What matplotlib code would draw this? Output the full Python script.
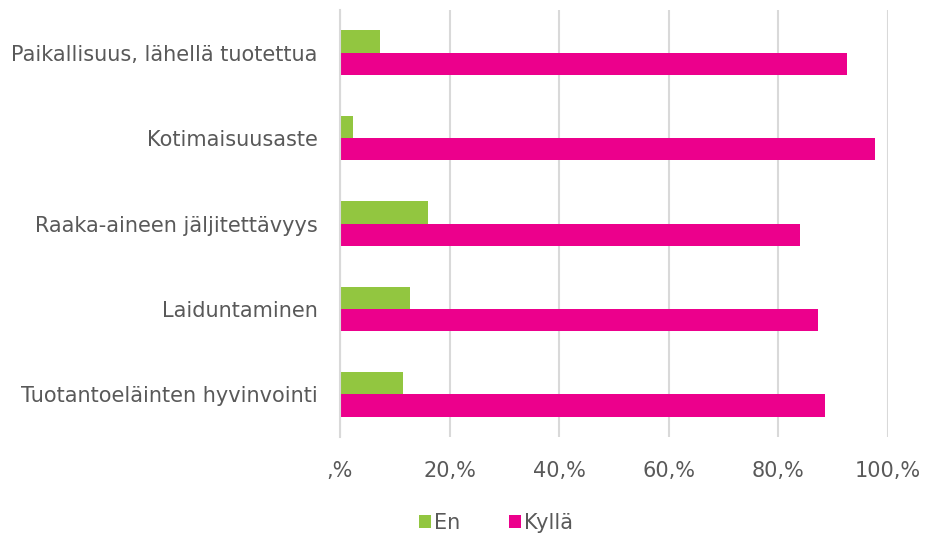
import matplotlib
matplotlib.use("Agg")
import matplotlib.pyplot as plt
import numpy as np

categories = ["Paikallisuus, lähellä tuotettua", "Kotimaisuusaste",
              "Raaka-aineen jäljitettävyys", "Laiduntaminen",
              "Tuotantoeläinten hyvinvointi"]
en = [7.3, 2.4, 16.0, 12.8, 11.5]
kylla = [92.6, 97.6, 84.0, 87.2, 88.5]
xticks = [0, 20, 40, 60, 80, 100]
xticklabels = [",%", "20,%", "40,%", "60,%", "80,%", "100,%"]

green = "#92c640"
pink = "#ec008c"
txt = "#595959"

plt.rcParams['font.family'] = ['DejaVu Sans']
fig = plt.figure(figsize=(9.25, 5.35), dpi=100)
ax = fig.add_axes([340/925, 1-437/535, 548/925, 427/535])

y = np.arange(len(categories))
h = 0.26
ax.barh(y - h/2, en, height=h, color=green, label="En")
ax.barh(y + h/2, kylla, height=h, color=pink, label="Kyllä")

ax.set_xlim(0, 100)
ax.set_ylim(len(categories) - 0.5, -0.5)
ax.set_xticks(xticks)
ax.set_xticklabels(xticklabels)
ax.set_yticks(y)
ax.set_yticklabels(categories)
ax.tick_params(axis='both', length=0, colors=txt, labelsize=15)
ax.tick_params(axis='x', pad=17)
ax.tick_params(axis='y', pad=16)
ax.grid(axis='x', color="#d9d9d9", linewidth=1.5)
ax.set_axisbelow(True)
for s in ["top", "right", "bottom"]:
    ax.spines[s].set_visible(False)
ax.spines["left"].set_color("#d9d9d9")
ax.spines["left"].set_linewidth(1.5)

leg = fig.legend(loc="center", bbox_to_anchor=(496/925, 1-523/535), ncol=2,
                 frameon=False, fontsize=15, handlelength=0.6, handleheight=0.6,
                 handletextpad=0.15, columnspacing=2.3)
for t in leg.get_texts():
    t.set_color(txt)

fig.savefig("out.png", dpi=100)
